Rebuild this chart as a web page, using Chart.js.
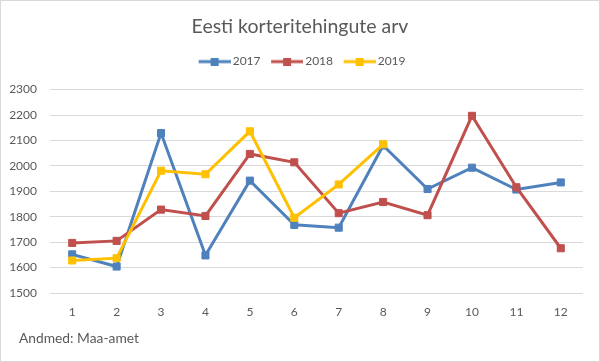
<!DOCTYPE html>
<html><head><meta charset="utf-8">
<script src="https://cdn.jsdelivr.net/npm/chart.js@4"></script>
<style>
html,body{margin:0;padding:0;background:#fff;}
#wrap{position:relative;width:600px;height:362px;overflow:hidden;}
#c{position:absolute;left:0;top:0;}
#frame{position:absolute;left:0;top:0;width:600px;height:362px;box-sizing:border-box;border:1px solid #d9d9d9;pointer-events:none;}
#note{position:absolute;left:19px;top:330px;font:13.8px Lato;line-height:16px;color:#595959;white-space:nowrap;}
</style></head><body>
<div id="wrap"><canvas id="c" width="600" height="362"></canvas><div id="frame"></div><div id="note"></div></div>
<script>
const titleText = 'Eesti korteritehingute arv';
const sourceText = 'Andmed: Maa-amet';
const months = ['1','2','3','4','5','6','7','8','9','10','11','12'];
const seriesNames = ['2017','2018','2019'];
const values2017 = [1652,1604,2129,1648,1942,1768,1757,2080,1909,1993,1907,1935];
const values2018 = [1697,1705,1828,1803,2047,2014,1814,1858,1806,2197,1916,1676];
const values2019 = [1628,1637,1981,1967,2136,1796,1927,2085,null,null,null,null];
const yMin = 1500, yMax = 2300, yStep = 100;
const seriesColors = ['#4F81BD','#C0504D','#FFC000'];

document.getElementById('note').textContent = sourceText;

function legendIcon(color){
  const cv = document.createElement('canvas');
  cv.width = 40; cv.height = 8;
  const g = cv.getContext('2d');
  g.fillStyle = color;
  g.fillRect(8,2.5,32,3);
  g.fillRect(20,0,8,8);
  return cv;
}

const seriesValues = [values2017, values2018, values2019];
const datasets = seriesNames.map((name,i)=>({
  label: name,
  data: seriesValues[i],
  yAxisID: 'y',
  borderColor: seriesColors[i],
  backgroundColor: seriesColors[i],
  pointBackgroundColor: seriesColors[i],
  pointBorderColor: seriesColors[i],
  borderWidth: 3,
  pointStyle: 'rect',
  pointRadius: 5,
  pointBorderWidth: 1,
  pointHoverRadius: 5,
  tension: 0,
  spanGaps: false,
  order: seriesNames.length - i
}));

const txt = '#595959';
new Chart(document.getElementById('c'), {
  type: 'line',
  data: { labels: months, datasets },
  options: {
    responsive: false,
    animation: false,
    devicePixelRatio: 1,
    layout: { padding: { left: 0, right: 0, top: 0, bottom: 31.6 } },
    plugins: {
      tooltip: { enabled: false },
      title: {
        display: true, text: titleText, color: txt,
        font: { family: 'Lato', size: 19.5, weight: 'normal' },
        padding: { top: 14.6, bottom: 11.2 }
      },
      subtitle: {
        display: true, text: ' ', weight: 500,
        font: { family: 'Lato', size: 1 },
        padding: { top: 10.8, bottom: 0 }
      },
      legend: {
        display: true, position: 'top', align: 'center',
        labels: {
          usePointStyle: true, pointStyleWidth: 32.24, padding: 6.42,
          color: txt, font: { family: 'Lato', size: 12 },
          sort: (a,b) => a.datasetIndex - b.datasetIndex,
          generateLabels(chart){
            const items = Chart.defaults.plugins.legend.labels.generateLabels(chart);
            items.forEach(it => { it.pointStyle = legendIcon(chart.data.datasets[it.datasetIndex].borderColor); });
            return items;
          }
        }
      }
    },
    scales: {
      x: {
        grid: { display: false, drawTicks: false },
        border: { display: false },
        offset: true,
        ticks: { color: txt, font: { family: 'Lato', size: 12 }, padding: 11.5 }
      },
      y: {
        position: 'left',
        min: yMin, max: yMax,
        grid: { color: '#d9d9d9', lineWidth: 1, drawTicks: false },
        border: { display: false },
        ticks: { stepSize: yStep, color: txt, font: { family: 'Lato', size: 12 }, padding: 13,
          callback: v => String(v) },
        afterFit(scale){ scale.width = 50; }
      },
      yRightSpace: {
        type: 'linear', position: 'right', display: true,
        grid: { display: false, drawTicks: false },
        border: { display: false },
        ticks: { display: false },
        afterFit(scale){ scale.width = 17; }
      }
    }
  }
});
</script>
</body></html>
